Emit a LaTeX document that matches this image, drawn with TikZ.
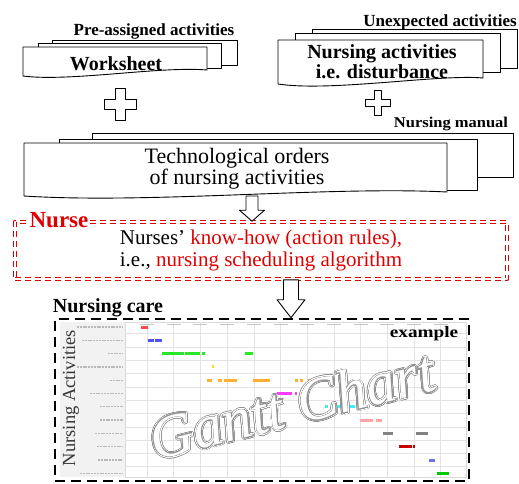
\documentclass[tikz,border=0pt]{standalone}
\usepackage{fontspec}
\setmainfont{Liberation Serif}
\usepackage{contour}
\usetikzlibrary{calc}

\definecolor{nursered}{RGB}{225,0,0}
\definecolor{ganttred}{RGB}{255,70,70}
\definecolor{ganttblue}{RGB}{80,80,255}
\definecolor{ganttgreen}{RGB}{40,230,40}
\definecolor{ganttyellow}{RGB}{255,230,0}
\definecolor{ganttorange}{RGB}{255,175,50}
\definecolor{ganttmagenta}{RGB}{255,60,255}
\definecolor{ganttcyan}{RGB}{60,240,255}
\definecolor{ganttpink}{RGB}{255,165,165}
\definecolor{ganttgray}{RGB}{130,130,130}
\definecolor{ganttdark}{RGB}{200,0,0}
\definecolor{ganttblueb}{RGB}{110,110,230}
\definecolor{ganttgreenb}{RGB}{0,200,0}

\contournumber{32}

\begin{document}
\begin{tikzpicture}[x=1pt,y=-1pt,line join=round,
  sheet/.style={draw,fill=white,line width=0.9pt},
  hollow/.style={draw,fill=white,line width=0.9pt},
  boldlbl/.style={font=\fontsize{#1}{#1}\selectfont\bfseries,inner sep=0pt},
  plainlbl/.style={font=\fontsize{#1}{#1}\selectfont,inner sep=0pt},
  blockto/.style n args={3}{to path={let \p1=(\tikztostart), \p2=(\tikztotarget) in
    (\x1-#1,\y1) -- (\x1-#1,\y2+#3) -- (\x1-#2,\y2+#3) -- (\x1,\y2)
    -- (\x1+#2,\y2+#3) -- (\x1+#1,\y2+#3) -- (\x1+#1,\y1) -- cycle}},
  nursebox/.style={draw=nursered,double=white,line width=1.6pt,double distance=1.7pt,
    dash pattern=on 6pt off 4pt,inner sep=0pt},
  carebox/.style={draw,line width=2.6pt,dash pattern=on 10pt off 6pt,inner sep=0pt},
  gridline/.style={draw=gray!22,line width=0.5pt},
  bar/.style={line width=3pt},
  outline/.style={font=\fontsize{60}{60}\selectfont\itshape,text=white,rotate=14,
    anchor=base,inner sep=0pt}]
  \useasboundingbox (0,0) rectangle (519,483);

  % worksheet stack
  \draw[sheet] (52,40) rectangle (237,65);
  \draw[sheet] (38,43) rectangle (221,68);
  \draw[sheet] (23,47) -- (207,47) -- (207,70) .. controls (160,66) and (70,82) .. (23,76) -- cycle;
  \node[boldlbl=17,anchor=base] (preassigned) at (154,35) {Pre-assigned activities};
  \node[boldlbl=20,anchor=base] (worksheet) at (116,70) {Worksheet};

  % disturbance stack
  \draw[sheet] (312,29) rectangle (517,68);
  \draw[sheet] (295,33) rectangle (500,72);
  \draw[sheet] (278,40) -- (483,40) -- (483,78) .. controls (440,74) and (330,92) .. (278,84) -- cycle;
  \node[boldlbl=17,anchor=base] (unexpected) at (440,26) {Unexpected activities};
  \node[boldlbl=20,align=center] (disturb) at (382,62) {Nursing activities\\i.e. disturbance};

  % plus signs
  \foreach \px/\py/\s in {120/104/1, 378/103/0.78}
    \draw[hollow,shift={(\px,\py)},scale=\s]
      (-5,-16) -- (5,-16) -- (5,-5) -- (16,-5) -- (16,5) -- (5,5) -- (5,16)
      -- (-5,16) -- (-5,5) -- (-16,5) -- (-16,-5) -- (-5,-5) -- cycle;

  % manual stack
  \draw[sheet] (92,133) rectangle (513,177);
  \draw[sheet] (59,139) rectangle (477,190);
  \draw[sheet] (24,143) -- (447,143) -- (447,192) .. controls (330,186) and (150,204) .. (24,196) -- cycle;
  \coordinate (techbot) at (252,196);
  \node[boldlbl=15,anchor=base,xscale=1.1] (manual) at (451,127) {Nursing manual};
  \node[plainlbl=22,align=center] (techorders) at (237,169) {Technological orders\\[-1pt]of nursing activities};

  % nurse
  \node[nursebox,minimum width=492,minimum height=57,align=left,font=\fontsize{21}{22}\selectfont]
    (nursebox) at (261,250.5)
    {Nurses' {\color{nursered}know-how (action rules),}\\i.e., {\color{nursered}nursing scheduling algorithm}};
  \node[boldlbl=23,text=nursered,fill=white,inner xsep=1pt,anchor=base] (nurselabel) at (59,227) {Nurse};
  \draw[hollow] (techbot) to[blockto={6pt}{12.5pt}{11pt}] (nursebox.north -| techbot);

  % nursing care
  \node[carebox,minimum width=414,minimum height=162] (carebox) at (262,400) {};
  \coordinate (carein) at (291,319);
  \draw[hollow] (nursebox.south -| carein) to[blockto={7.5pt}{14pt}{18pt}] (carebox.north -| carein);
  \node[boldlbl=20,anchor=base] (care) at (108,312) {Nursing care};

  % gantt chart
  \fill[gray!10] (60,322) rectangle (125,477);
  \draw[gray!30,fill=white] (125,322) rectangle (466,477);
  \foreach \k in {0,...,11} {
    \draw[gridline] ({147+26.7*\k},322) -- ({147+26.7*\k},477);
    \draw[gray!45,line width=1pt] ({147+26.7*\k-7},324.5) -- ({147+26.7*\k+7},324.5);
  }
  \foreach \i in {1,...,11}
    \draw[gridline] (125,{320.35+13.3*\i}) -- (466,{320.35+13.3*\i});
  \foreach \r/\w in {1/46,2/41,3/15,4/46,5/13,6/33,7/23,8/23,9/28,10/26,11/25,12/43}
    \draw[gray!55,line width=1.3pt,dash pattern=on 2pt off 0.8pt]
      ({123-\w},{327+13.3*(\r-1)}) -- (123,{327+13.3*(\r-1)});
  \foreach \r/\a/\b/\c in {1/141/148/ganttred, 2/148/154/ganttblue, 2/155/162/ganttblue,
      3/162/184/ganttgreen, 3/185/200/ganttgreen, 3/202/205/ganttgreen, 3/245/253/ganttgreen,
      4/212/214/ganttyellow, 5/207/212/ganttorange, 5/218/222/ganttorange, 5/224/237/ganttorange,
      5/253/270/ganttorange, 5/295/298/ganttorange, 5/300/303/ganttorange, 5/308/323/ganttorange,
      6/277/292/ganttmagenta, 6/295/297/ganttmagenta, 7/325/328/ganttcyan, 7/331/355/ganttcyan,
      8/360/373/ganttpink, 8/376/382/ganttpink, 9/383/393/ganttgray, 9/416/428/ganttgray,
      10/399/412/ganttdark, 10/413/415/ganttdark, 11/429/435/ganttblueb, 12/437/449/ganttgreenb}
    \draw[bar,draw=\c] (\a,{327+13.3*(\r-1)}) -- (\b,{327+13.3*(\r-1)});
  \node[plainlbl=18.5,text=black!78,rotate=90] (activities) at (71,398) {Nursing Activities};
  \node[boldlbl=16,anchor=base,xscale=1.2] (example) at (424,337) {example};
  % double outlined watermark
  \node[outline] (gantt) at (297,425) {\contourlength{1.9pt}\contour{gray!85}{Gantt Chart}};
  \node[outline] at (gantt.base) {\contourlength{1.2pt}\contour{white}{Gantt Chart}};
  \node[outline] at (gantt.base) {\contourlength{0.5pt}\contour{gray!85}{Gantt Chart}};
\end{tikzpicture}
\end{document}
